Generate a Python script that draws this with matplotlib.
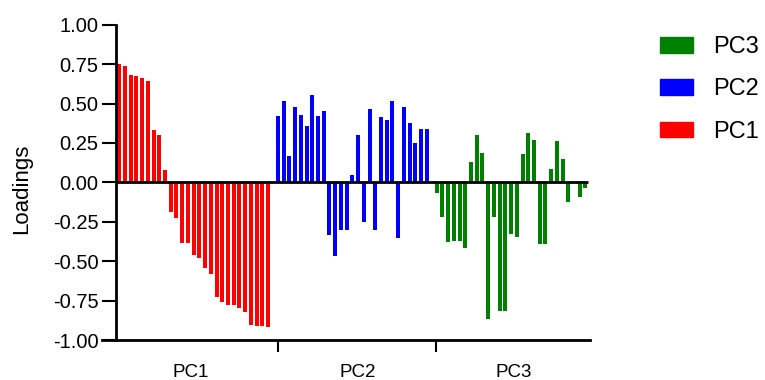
import numpy as np
import matplotlib
matplotlib.use("Agg")
import matplotlib.pyplot as plt
from matplotlib.patches import Patch

plt.rcParams['font.family'] = ['Liberation Sans', 'DejaVu Sans']

groups = ["PC1", "PC2", "PC3"]
colors = ["#ff0000", "#0000ff", "#008000"]

pc1 = [0.75, 0.74, 0.68, 0.675, 0.66, 0.64, 0.335, 0.30, 0.08,
       -0.19, -0.225, -0.385, -0.385, -0.46, -0.48, -0.545, -0.58, -0.73,
       -0.76, -0.775, -0.775, -0.795, -0.82, -0.905, -0.91, -0.91, -0.915]
pc2 = [0.42, 0.515, 0.165, 0.48, 0.43, 0.36, 0.555, 0.42, 0.455,
       -0.333, -0.47, -0.305, -0.30, 0.048, 0.30, -0.25, 0.465, -0.305,
       0.417, 0.395, 0.515, -0.356, 0.48, 0.377, 0.25, 0.34, 0.34]
pc3 = [-0.07, -0.22, -0.38, -0.373, -0.373, -0.415, 0.13, 0.30, 0.185,
       -0.868, -0.22, -0.818, -0.818, -0.325, -0.346, 0.18, 0.31, 0.27,
       -0.39, -0.39, 0.082, 0.262, 0.145, -0.124, 0.0, -0.096, -0.034]
series = [pc1, pc2, pc3]

yticks = [1.0, 0.75, 0.5, 0.25, 0.0, -0.25, -0.5, -0.75, -1.0]

W, H = 765, 380
fig = plt.figure(figsize=(W / 100, H / 100), dpi=100)
ax = fig.add_axes([102 / W, 1 - 340 / H, (590 - 102) / W, (340 - 24.7) / H])

gap = 27.75
for g, vals in enumerate(series):
    x = np.arange(len(vals)) + g * gap
    ax.bar(x, vals, width=0.7, color=colors[g], edgecolor='none')

ax.set_xlim(-3.02, 82.3)
ax.set_ylim(-1, 1)
ax.hlines(0, -0.49, 82.0, color='black', lw=2, zorder=3)

for s in ['top', 'right']:
    ax.spines[s].set_visible(False)
ax.spines['left'].set_position(('data', -0.49))
ax.spines['left'].set_linewidth(2)
ax.spines['bottom'].set_linewidth(2)

ax.set_yticks(yticks)
ax.set_yticklabels(["%.2f" % v for v in yticks])
ax.tick_params(axis='y', length=10, width=1.5, pad=3, labelsize=14.5)

ax.set_xticks([27.7, 55.3])
ax.set_xticklabels([])
ax.tick_params(axis='x', which='major', length=8.6, width=1.5, direction='out')
ax.set_xticks([12.4, 41.7, 69.0], minor=True)
ax.set_xticklabels(groups, minor=True)
ax.tick_params(axis='x', which='minor', length=0, pad=17, labelsize=13.5)

fig.text(22 / W, 1 - 189 / H, "Loadings", rotation=90, ha='center', va='center', fontsize=16)

handles = [Patch(color=colors[i], label=groups[i]) for i in [2, 1, 0]]
fig.legend(handles=handles, loc='upper left', bbox_to_anchor=(660 / W, 1 - 36 / H),
           frameon=False, fontsize=17, handlelength=1.4, handleheight=0.64,
           handletextpad=0.85, labelspacing=0.86, borderpad=0, borderaxespad=0)

fig.savefig("out.png", dpi=100)
